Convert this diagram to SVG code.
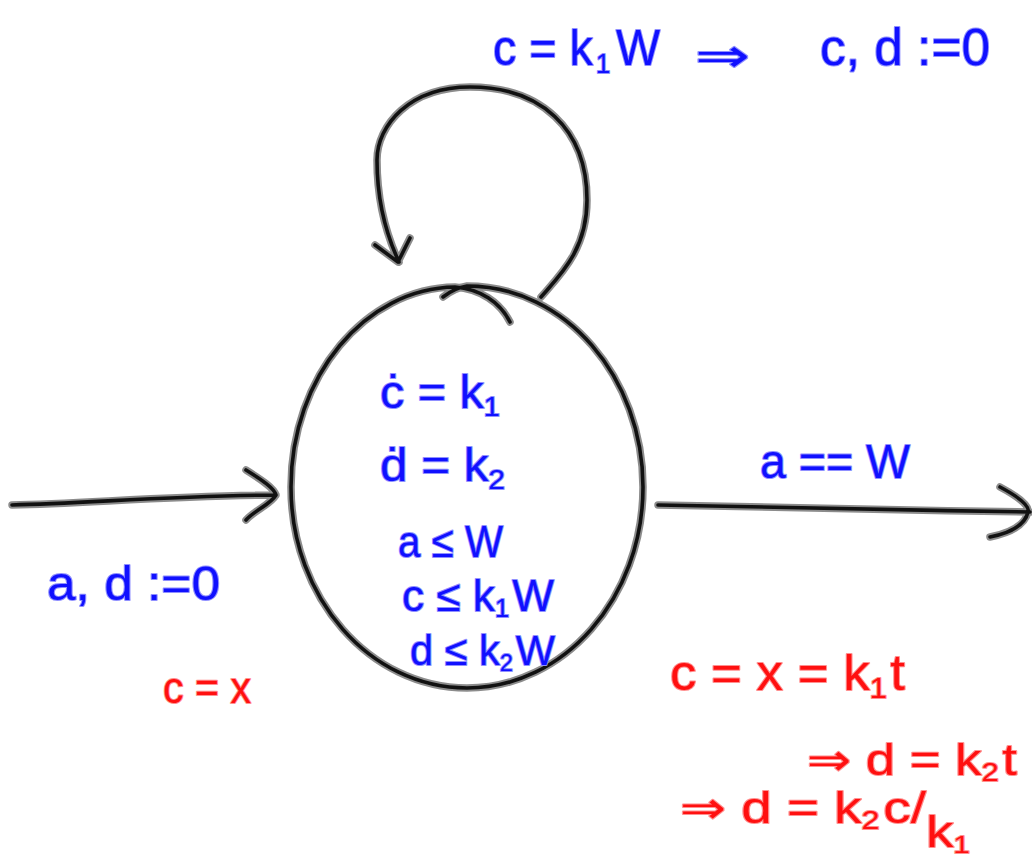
<svg xmlns="http://www.w3.org/2000/svg" width="1032" height="857" viewBox="0 0 1032 857">
<style>
.h{fill:none;stroke:#8c8c8c;stroke-width:7.5;stroke-linecap:round;stroke-linejoin:round}
.k{fill:none;stroke:#111;stroke-width:3.6;stroke-linecap:round;stroke-linejoin:round}
text{font-family:"Liberation Sans","DejaVu Sans",sans-serif;paint-order:stroke;stroke-linejoin:round}
.b{fill:#1010ff;stroke:#9090ff;stroke-width:2}
.r{fill:#ff1010;stroke:#ff9090;stroke-width:2}
.ar{font-family:"DejaVu Sans",sans-serif}
</style>
<defs>
<path id="circ" d="M443,297 C452,290 460,287 467,286 C566,286 643,378 643,487 C643,598 564,688 467,688 C370,688 291,598 291,487 C291,376 366,288 455,287 C480,289 500,302 510,322"/>
<path id="loop" d="M541,297 C560,275 587,250 587,200 C587,128 540,87 470,87 C410,87 377,125 377,160 C377,200 385,232 399,262 M375,245 L398,262 L410,238"/>
<path id="in" d="M12,505 C90,503 170,496 276,495 M246,470 C262,480 274,488 276,495 C270,505 255,510 246,520"/>
<path id="out" d="M658,505 C760,507 900,510 1030,512 M1000,487 C1015,495 1030,505 1028,512 C1025,525 1010,533 990,537"/>
</defs>
<rect width="1032" height="857" fill="#fff"/>
<g id="connectors">
<use href="#loop" class="h"/><use href="#loop" class="k"/>
<use href="#in" class="h"/><use href="#in" class="k"/>
<use href="#out" class="h"/><use href="#out" class="k"/>
</g>
<g id="state">
<use href="#circ" class="h"/><use href="#circ" class="k"/>
<text class="b" x="380" y="408" font-size="46" textLength="120" lengthAdjust="spacingAndGlyphs">ċ = k<tspan font-size="28" dy="8">1</tspan></text>
<text class="b" x="380" y="481" font-size="46" textLength="125" lengthAdjust="spacingAndGlyphs">ḋ = k<tspan font-size="28" dy="8">2</tspan></text>
<text class="b" x="398" y="557" font-size="44" textLength="105" lengthAdjust="spacingAndGlyphs">a ≤ W</text>
<text class="b" x="402" y="611" font-size="44" textLength="152" lengthAdjust="spacingAndGlyphs">c ≤ k<tspan font-size="26" dy="6">1</tspan><tspan dx="3" dy="-6">W</tspan></text>
<text class="b" x="410" y="665" font-size="42" textLength="145" lengthAdjust="spacingAndGlyphs">d ≤ k<tspan font-size="24" dy="6">2</tspan><tspan dx="3" dy="-6">W</tspan></text>
</g>
<g id="labels">
<text class="b" x="493" y="65" font-size="50" textLength="167" lengthAdjust="spacingAndGlyphs">c = k<tspan font-size="28" dx="3" dy="8">1</tspan><tspan dx="6" dy="-8">W</tspan></text>
<text class="b ar" x="695" y="72" font-size="48" textLength="55" lengthAdjust="spacingAndGlyphs">⇒</text>
<text class="b" x="820" y="65" font-size="52" textLength="170" lengthAdjust="spacingAndGlyphs">c, d :=0</text>
<text class="b" x="760" y="478" font-size="48" textLength="150" lengthAdjust="spacingAndGlyphs">a == W</text>
<text class="b" x="47" y="600" font-size="48" textLength="173" lengthAdjust="spacingAndGlyphs">a, d :=0</text>
<text class="r" x="163" y="703" font-size="44" textLength="88" lengthAdjust="spacingAndGlyphs">c = x</text>
<text class="r" x="670" y="690" font-size="50" textLength="235" lengthAdjust="spacingAndGlyphs">c = x = k<tspan font-size="30" dy="8">1</tspan><tspan dx="3" dy="-8">t</tspan></text>
<text class="r" x="807" y="775" font-size="44" textLength="210" lengthAdjust="spacingAndGlyphs"><tspan class="ar">⇒</tspan> d = k<tspan font-size="26" dy="6">2</tspan><tspan dx="3" dy="-6">t</tspan></text>
<text class="r" x="680" y="823" font-size="44" textLength="290" lengthAdjust="spacingAndGlyphs"><tspan class="ar">⇒</tspan> d = k<tspan font-size="26" dy="6">2</tspan><tspan dx="3" dy="-6">c/</tspan><tspan dy="24">k</tspan><tspan font-size="24" dy="6">1</tspan></text>
</g>
</svg>
